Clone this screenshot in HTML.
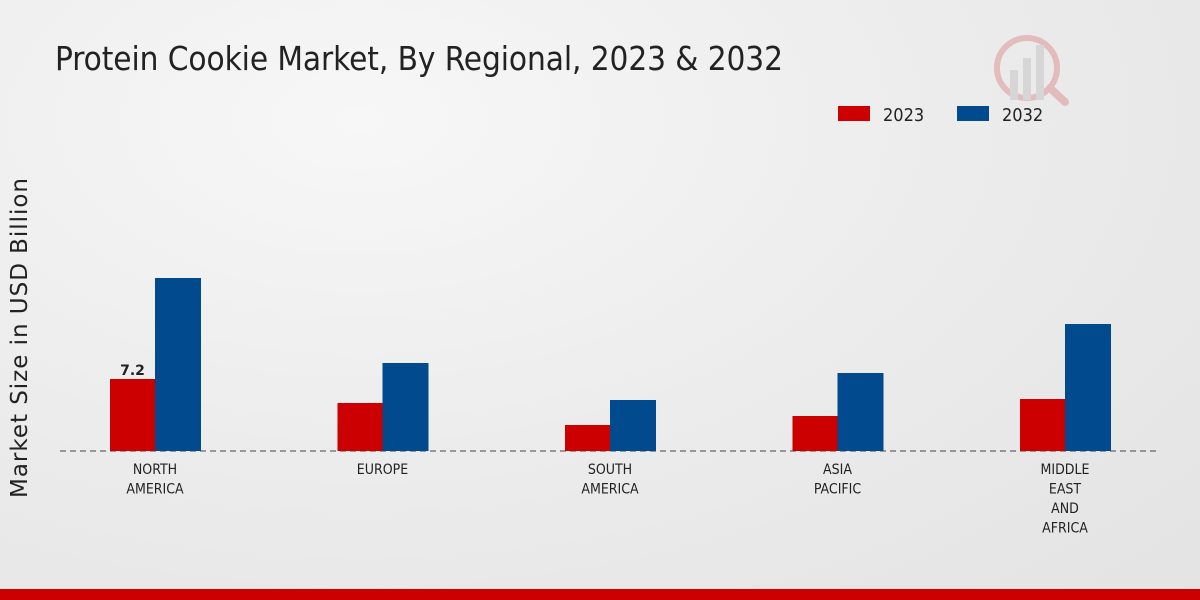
<!DOCTYPE html>
<html><head><meta charset="utf-8"><style>
body{margin:0;width:1200px;height:600px;overflow:hidden;font-family:"DejaVu Sans","Liberation Sans",sans-serif;}
#bg{position:absolute;left:0;top:0;width:1200px;height:600px;background:radial-gradient(ellipse at 30% 20%,#f7f7f7 0%,#ececec 50%,#e3e3e3 100%);}
</style></head><body>
<div id="bg"></div>
<svg id="chart" width="1200" height="600" style="position:absolute;left:0;top:0">
<text x="55" y="70" font-size="33" fill="#222" font-family="'DejaVu Sans Condensed','Liberation Sans Narrow',sans-serif" textLength="728">Protein Cookie Market, By Regional, 2023 &amp; 2032</text>
<g opacity="0.25">
<circle cx="1027" cy="68" r="30" fill="none" stroke="#c33" stroke-width="6"/>
<rect x="1010" y="70" width="8" height="30" fill="#999"/><rect x="1023" y="58" width="8" height="42" fill="#999"/><rect x="1036" y="45" width="8" height="55" fill="#999"/>
<line x1="1050" y1="88" x2="1065" y2="102" stroke="#c33" stroke-width="8" stroke-linecap="round"/>
</g>
<g font-family="'DejaVu Sans Condensed',sans-serif">
<rect x="838" y="106" width="32" height="15" fill="#cc0000"/>
<text x="883" y="121" font-size="18" fill="#222">2023</text>
<rect x="957" y="106" width="32" height="15" fill="#004a8d"/>
<text x="1002" y="121" font-size="18" fill="#222">2032</text>
</g>
<text transform="translate(27,338) rotate(-90)" text-anchor="middle" font-size="23" fill="#222" textLength="320">Market Size in USD Billion</text>
<line x1="60" y1="451" x2="1160" y2="451" stroke="#444" stroke-dasharray="6,4"/>
<g id="bars"></g>
</svg>
<script>
const categories=[["NORTH","AMERICA"],["EUROPE"],["SOUTH","AMERICA"],["ASIA","PACIFIC"],["MIDDLE","EAST","AND","AFRICA"]];
const values2023=[7.2,4.8,2.6,3.5,5.2];
const values2032=[17.3,8.8,5.1,7.8,12.7];
const labels2023=["7.2",null,null,null,null];
const baseY=451,pxPer=10,bw=45;
const x=i=>155+i*227.5;
const y=v=>baseY-v*pxPer;
const g=document.getElementById('bars');
const ns="http://www.w3.org/2000/svg";
categories.forEach((c,i)=>{
 const r=document.createElementNS(ns,'rect');
 
 
 r.setAttribute('x',x(i)-bw);r.setAttribute('y',y(values2023[i]));r.setAttribute('width',bw);r.setAttribute('height',baseY-y(values2023[i]));r.setAttribute('fill','#cc0000');g.appendChild(r);
 const b=document.createElementNS(ns,'rect');
 
 
 b.setAttribute('x',x(i));b.setAttribute('y',y(values2032[i]));b.setAttribute('width',bw+1);b.setAttribute('height',baseY-y(values2032[i]));b.setAttribute('fill','#004a8d');g.appendChild(b);
 if(labels2023[i]){const t=document.createElementNS(ns,'text');
 
 
 t.setAttribute('x',x(i)-bw/2);t.setAttribute('y',y(values2023[i])-4);t.setAttribute('text-anchor','middle');t.setAttribute('font-size','14');t.setAttribute('font-weight','bold');t.setAttribute('fill','#222');t.textContent=labels2023[i];g.appendChild(t);}
 c.forEach((line,j)=>{const t=document.createElementNS(ns,'text');
 
 
 t.setAttribute('x',x(i));t.setAttribute('y',474+j*19.5);t.setAttribute('text-anchor','middle');t.setAttribute('font-size','14');t.setAttribute('fill','#222');t.setAttribute('font-family',"'DejaVu Sans Condensed',sans-serif");t.textContent=line;g.appendChild(t);});
});
</script>
<div style="position:absolute;left:0;top:589px;width:1200px;height:11px;background:#cc0000"></div>
</body></html>
